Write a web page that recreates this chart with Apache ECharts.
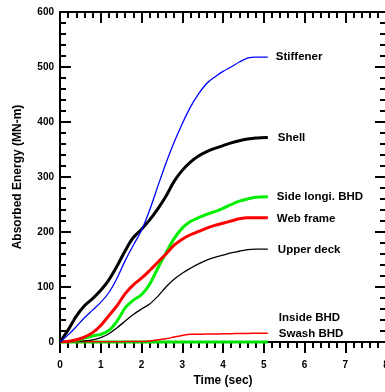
<!DOCTYPE html>
<html>
<head>
<meta charset="utf-8">
<script src="https://cdn.jsdelivr.net/npm/echarts@6/dist/echarts.min.js"></script>
<style>
html,body{margin:0;padding:0;background:#fff;}
#chart{width:385px;height:392px;}
</style>
</head>
<body>
<div id="chart"></div>
<script>
// Time points (sec)
var timeSec = [0,0.2,0.4,0.6,0.8,1.0,1.2,1.4,1.6,1.8,2.0,2.2,2.4,2.6,2.8,3.0,3.2,3.4,3.6,3.8,4.0,4.2,4.4,4.6,4.8,5.1];
// Absorbed energy (MN-m)
var stiffener  = [0,13,28,44,58,72,90,116,148,176,203,240,283,325,363,397,427,451,470,482,492,500,509,516,518,518];
var shell      = [0,22,47,66,79,94,113,138,166,190,205,222,242,265,292,312,327,338,346,352,357,362,366,369,371,372];
var sideLongi  = [0,1,3,7,11,14,21,38,62,76,86,105,134,162,188,207,219,226,232,237,243,250,256,260,263,264];
var webFrame   = [0,1,4,9,17,30,48,66,88,104,116,130,145,160,176,187,195,201,207,212,216,220,224,226,226,226];
var upperDeck  = [0,0,1,2,4,8,15,26,38,50,60,69,83,100,114,125,134,142,149,154,158,162,165,168,169,169];
var insideBHD  = [0,0,0,0,0,0,0,0,0,0,0,0,0,0,0,0,0,0,0,0,0,0,0,0,0,0];
var swashBHD   = [0,0.5,0.5,0.5,0.5,0.5,0.5,0.5,0.8,1,1,2,4,6,9,12,14,14,14.5,14.5,15,15,15.5,15.5,16,16];
// Axis ticks
var xTicks = {min:0, max:8, interval:1};
var yTicks = {min:0, max:600, interval:100};
var seriesNames = ['Stiffener','Shell','Side longi. BHD','Web frame','Upper deck','Inside BHD','Swash BHD'];

function pairs(vals){ return timeSec.map(function(t,i){ return [t, vals[i]]; }); }

var FONT = 'Liberation Sans';
var lbl = {show:true, formatter:'{a}', color:'#000', fontFamily:FONT, fontWeight:'bold', fontSize:11.5, distance:8};

function mk(name, vals, color, width, z, offset, clip){
  var l = Object.assign({}, lbl);
  if (offset) l.offset = offset;
  return {
    name:name, type:'line', data:pairs(vals), smooth:0.35, showSymbol:false, symbol:'none',
    lineStyle:{color:color, width:width}, itemStyle:{color:color}, z:z, clip: clip===false?false:true,
    endLabel:l, animation:false
  };
}

var axisLine = {show:true, onZero:false, lineStyle:{color:'#000', width:2}};
function xa(pos, showLabel, inside){
  return {
    type:'value', position:pos, min:xTicks.min, max:xTicks.max, interval:xTicks.interval,
    axisLine:axisLine,
    axisTick:{show:true, inside:inside, length:11, lineStyle:{color:'#000', width:2}},
    minorTick:{show:true, splitNumber:5, length:6, lineStyle:{color:'#000', width:2}},
    axisLabel:{show:showLabel, color:'#000', fontFamily:FONT, fontWeight:'bold', fontSize:10, margin:18},
    splitLine:{show:false}, minorSplitLine:{show:false},
    name: showLabel ? 'Time (sec)' : '', nameLocation:'middle', nameGap:28,
    nameTextStyle:{color:'#000', fontFamily:FONT, fontWeight:'bold', fontSize:12}
  };
}
function ya(pos, showLabel){
  return {
    type:'value', position:pos, min:yTicks.min, max:yTicks.max, interval:yTicks.interval,
    axisLine:axisLine,
    axisTick:{show:true, inside:true, length:11, lineStyle:{color:'#000', width:2}},
    minorTick:{show:true, splitNumber:5, length:6, lineStyle:{color:'#000', width:2}},
    axisLabel:{show:showLabel, color:'#000', fontFamily:FONT, fontWeight:'bold', fontSize:10, margin:6},
    splitLine:{show:false}, minorSplitLine:{show:false},
    name: showLabel ? 'Absorbed Energy (MN-m)' : '', nameLocation:'middle', nameGap:36,
    nameTextStyle:{color:'#000', fontFamily:FONT, fontWeight:'bold', fontSize:12}
  };
}

var chart = echarts.init(document.getElementById('chart'), null, {renderer:'canvas'});
chart.setOption({
  animation:false,
  backgroundColor:'#fff',
  grid:{left:60, top:12, width:326, height:330, containLabel:false, outerBoundsMode:'none'},
  xAxis:[xa('bottom', true, false), xa('top', false, true)],
  yAxis:[ya('left', true), ya('right', false)],
  series:[
    mk(seriesNames[5], insideBHD, '#00e000', 3, 3, [3,-24], false),
    mk(seriesNames[6], swashBHD, '#ff0000', 1.5, 4, [3,1]),
    mk(seriesNames[4], upperDeck, '#000000', 1.3, 5, [2,1]),
    mk(seriesNames[2], sideLongi, '#00ee00', 3, 6, [1,0]),
    mk(seriesNames[3], webFrame, '#ff0000', 3, 7, [1,1]),
    mk(seriesNames[1], shell, '#000000', 3, 8, [2,0]),
    mk(seriesNames[0], stiffener, '#0000ff', 1.3, 9, [0,0])
  ]
});
</script>
</body>
</html>
